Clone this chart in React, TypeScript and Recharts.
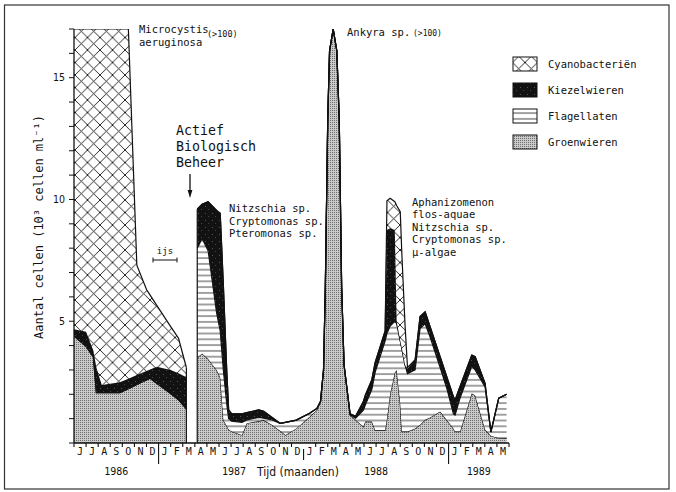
import React from 'react';
import { AreaChart, Area, XAxis, YAxis, ReferenceLine } from 'recharts';

// time in months since 1 June 1986 (null row = gap in sampling)
const monthTime = [0, 1.0, 1.6, 1.85, 2.3, 3.8, 4.5, 5.2, 6.0, 6.3, 6.85, 8.0, 8.65, 9.3, 9.75,
  10.2, 10.6, 11.1, 11.8, 12.1, 12.36, 12.64, 12.8, 13.05, 13.9, 14.3, 15.3, 15.7, 16.4, 17.05, 17.5, 18.4, 19.5, 20.1,
  20.4, 20.65, 20.8, 21.0, 21.15, 21.45, 21.75, 21.95, 22.15, 22.35,
  22.85, 23.3, 23.95, 24.1, 24.65, 24.92, 25.75, 25.9, 26.16, 26.55, 26.7, 27.0, 27.13, 27.4, 27.6, 28.23, 28.64, 29.06,
  29.47, 30.3, 30.85, 31.4, 31.54, 31.95, 32.92, 33.2, 34.02, 34.5, 35.15, 35.8];

const groenwieren = [4.4, 3.97, 3.54, 2.07, 2.07, 2.07, 2.23, 2.4, 2.59, 2.66, 2.45, 2.03, 1.78, 1.4, null,
  3.5, 3.68, 3.45, 3.0, 2.7, 0.94, 0.7, 0.55, 0.47, 0.33, 0.81, 0.9, 0.94, 0.74, 0.5, 0.33, 0.6, 1.08, 1.36,
  1.7, 3.0, 6.4, 13.3, 16.1, 17.0, 16.1, 13.3, 6.4, 3.2,
  1.15, 0.95, 0.67, 0.88, 0.88, 0.53, 0.53, 1.0, 2.0, 2.9, 3.0, 1.6, 0.47, 0.47, 0.47, 0.6, 0.75, 0.95,
  1.05, 1.29, 0.94, 0.6, 0.47, 0.47, 2.04, 1.95, 0.55, 0.3, 0.2, 0.19];

const flagellaten = [0, 0, 0, 0, 0, 0, 0, 0, 0, 0, 0, 0, 0, 0, null,
  4.5, 4.72, 4.45, 2.35, 1.9, 2.06, 0.9, 0.45, 0.43, 0.52, 0.14, 0.15, 0.08, 0.21, 0.31, 0.52, 0.34, 0.14, 0.06,
  0, 0, 0, 0, 0, 0, 0, 0, 0, 0,
  0, 0.07, 0.68, 0.67, 1.32, 2.37, 3.67, 3.5, 2.8, 2.1, 1.9, 2.6, 3.43, 2.73, 2.38, 2.4, 3.95, 3.95,
  3.3, 1.81, 1.31, 0.6, 0.68, 1.38, 1.11, 1.05, 1.75, 0.15, 1.64, 1.81];

const kiezelwieren = [0.27, 0.6, 0.26, 1.03, 0.31, 0.42, 0.41, 0.39, 0.37, 0.36, 0.68, 0.97, 1.08, 1.3, null,
  1.6, 1.4, 2.01, 4.2, 4.83, 3.5, 1.4, 0.36, 0.3, 0.35, 0.3, 0.31, 0.28, 0.1, 0, 0, 0, 0, 0,
  0, 0, 0, 0, 0, 0, 0, 0, 0, 0,
  0.05, 0.08, 0.35, 0.4, 0.4, 0.4, 0.4, 4.25, 4.02, 3.75, 0.1, 0, 0, 0, 0.2, 0.41, 0.49, 0.49,
  0.43, 0.44, 0.47, 0.7, 0.62, 0.47, 0.46, 0.54, 0.15, 0, 0, 0];

const cyanobacterien = [12.33, 12.43, 13.2, 13.9, 14.62, 14.51, 14.36, 4.51, 3.34, 3.05, 2.52, 1.78, 1.44, 0.4, null,
  0, 0, 0, 0, 0, 0, 0, 0, 0, 0, 0, 0, 0, 0, 0, 0, 0, 0, 0,
  0, 0, 0, 0, 0, 0, 0, 0, 0, 0,
  0, 0, 0, 0, 0, 0, 0, 1.2, 1.23, 1.16, 4.75, 5.3, 3.9, 1.6, 0.05, 0, 0, 0,
  0, 0, 0, 0, 0, 0, 0, 0, 0, 0, 0, 0];

const monthLetters = ['J', 'J', 'A', 'S', 'O', 'N', 'D', 'J', 'F', 'M', 'A', 'M', 'J', 'J', 'A', 'S', 'O', 'N', 'D',
  'J', 'F', 'M', 'A', 'M', 'J', 'J', 'A', 'S', 'O', 'N', 'D', 'J', 'F', 'M', 'A', 'M'];
const yearLabels = ['1986', '1987', '1988', '1989'];
const yearStartMonth = [0, 7, 19, 31];
const yearMonthCount = [7, 12, 12, 5];
const yTicks = [0, 1, 2, 3, 4, 5, 6, 7, 8, 9, 10, 11, 12, 13, 14, 15, 16, 17];
const monthTicks = Array.from({ length: 37 }, (_, i) => i);

const legendNames = ['Cyanobacteriën', 'Kiezelwieren', 'Flagellaten', 'Groenwieren'];
const legendPatterns = ['pCyano', 'pKiezel', 'pFlag', 'pGroen'];

const rows = monthTime.map((t, i) => ({
  t,
  g: groenwieren[i],
  f: flagellaten[i],
  k: kiezelwieren[i],
  c: cyanobacterien[i],
}));

// section edges next to the sampling gap
const edges: { t: number; total: number }[] = [];
rows.forEach((r, i) => {
  if (r.g == null) {
    [rows[i - 1], rows[i + 1]].forEach((e) => {
      if (e) edges.push({ t: e.t, total: (e.g as number) + (e.f as number) + (e.k as number) + (e.c as number) });
    });
  }
});

const W = 676;
const H = 492;
const PLOT_L = 74;
const PLOT_R = 509;
const MONTH_PX = (PLOT_R - PLOT_L) / 36;
const MONO = 'DejaVu Sans Mono';
const INK = '#111';

const MonthTick = (props: any) => {
  const { x, y, payload } = props;
  const i = payload.value as number;
  const yi = yearStartMonth.indexOf(i);
  let y1 = y;
  let y2 = y + 4;
  if (i === 7 || i === 31) y2 = y + 21;
  if (i === 19) { y1 = y + 6; y2 = y + 17; }
  return (
    <g>
      <line x1={x} x2={x} y1={y1} y2={y2} stroke={INK} strokeWidth={1.1} />
      {i < 36 && (
        <text x={x + MONTH_PX / 2} y={y + 12} textAnchor="middle" fontSize={10} fontFamily={MONO} fill={INK}>
          {monthLetters[i]}
        </text>
      )}
      {yi >= 0 && (
        <text x={x + (yearMonthCount[yi] * MONTH_PX) / 2 + (yi === 1 ? 3 : 0)} y={y + 32} textAnchor="middle" fontSize={10} fontFamily={MONO} fill={INK}>
          {yearLabels[yi]}
        </text>
      )}
    </g>
  );
};

const Patterns = () => (
  <svg width={0} height={0} style={{ position: 'absolute' }}>
    <defs>
      <pattern id="pCyano" patternUnits="userSpaceOnUse" width={12.5} height={12.5}>
        <rect width={12.5} height={12.5} fill="#fff" />
        <line x1={0} y1={0} x2={12.5} y2={12.5} stroke={INK} strokeWidth={0.9} />
        <line x1={12.5} y1={0} x2={0} y2={12.5} stroke={INK} strokeWidth={0.9} />
      </pattern>
      <pattern id="pFlag" patternUnits="userSpaceOnUse" width={8} height={5.8}>
        <rect width={8} height={5.8} fill="#fff" />
        <line x1={0} y1={2.9} x2={8} y2={2.9} stroke={INK} strokeWidth={0.8} />
      </pattern>
      <pattern id="pKiezel" patternUnits="userSpaceOnUse" width={7} height={7}>
        <rect width={7} height={7} fill="#121212" />
        <rect x={2} y={3} width={1} height={1} fill="#555" />
        <rect x={5} y={6} width={1} height={1} fill="#444" />
      </pattern>
      <pattern id="pGroen" patternUnits="userSpaceOnUse" width={2} height={2}>
        <rect width={2} height={2} fill="#cacaca" />
        <rect x={0} y={0} width={1} height={1} fill="#6e6e6e" />
      </pattern>
    </defs>
  </svg>
);

const Overlay = () => (
  <svg width={W} height={H} style={{ position: 'absolute', left: 0, top: 0, pointerEvents: 'none' }}>
    <rect x={4.5} y={5} width={664.5} height={484} fill="none" stroke="#333" strokeWidth={1.2} />
    {/* y axis title */}
    <text x={39} y={227} transform="rotate(-90 39 227)" textAnchor="middle" dominantBaseline="central"
      fontSize={12} fontFamily={MONO} fill={INK}>Aantal cellen (10³ cellen ml⁻¹)</text>
    {/* x axis title */}
    <text x={298} y={476} textAnchor="middle" fontSize={12} fontFamily="DejaVu Sans Condensed" fill={INK}>Tijd (maanden)</text>
    {/* annotations */}
    <text x={139} y={33} fontSize={10.5} fontFamily={MONO} fill={INK}>Microcystis</text>
    <text x={207} y={37} fontSize={8.5} fontFamily={MONO} fill={INK}>(&gt;100)</text>
    <text x={139} y={46} fontSize={10.5} fontFamily={MONO} fill={INK}>aeruginosa</text>
    <text x={347} y={36} fontSize={10.5} fontFamily={MONO} fill={INK}>Ankyra sp.</text>
    <text x={413} y={36} fontSize={8} fontFamily={MONO} fill={INK}>(&gt;100)</text>
    <text x={176} y={135} fontSize={13.3} fontFamily={MONO} fill={INK}>Actief</text>
    <text x={176} y={151} fontSize={13.3} fontFamily={MONO} fill={INK}>Biologisch</text>
    <text x={176} y={167} fontSize={13.3} fontFamily={MONO} fill={INK}>Beheer</text>
    <line x1={190} y1={174} x2={190} y2={192} stroke={INK} strokeWidth={1.3} />
    <polygon points="190,198 187.6,190 192.4,190" fill={INK} />
    <text x={229} y={212} fontSize={10.5} fontFamily={MONO} fill={INK}>Nitzschia sp.</text>
    <text x={229} y={225} fontSize={10.5} fontFamily={MONO} fill={INK}>Cryptomonas sp.</text>
    <text x={229} y={237} fontSize={10.5} fontFamily={MONO} fill={INK}>Pteromonas sp.</text>
    <text x={412} y={205.5} fontSize={10.5} fontFamily={MONO} fill={INK}>Aphanizomenon</text>
    <text x={412} y={218} fontSize={10.5} fontFamily={MONO} fill={INK}>flos-aquae</text>
    <text x={412} y={230.5} fontSize={10.5} fontFamily={MONO} fill={INK}>Nitzschia sp.</text>
    <text x={412} y={243} fontSize={10.5} fontFamily={MONO} fill={INK}>Cryptomonas sp.</text>
    <text x={412} y={255.5} fontSize={10.5} fontFamily={MONO} fill={INK}>µ-algae</text>
    {/* ice period */}
    <text x={165} y={254} textAnchor="middle" fontSize={9} fontFamily={MONO} fill={INK}>ijs</text>
    <line x1={153} y1={260} x2={177} y2={260} stroke={INK} strokeWidth={1} />
    <line x1={153} y1={257.5} x2={153} y2={262.5} stroke={INK} strokeWidth={1} />
    <line x1={177} y1={257.5} x2={177} y2={262.5} stroke={INK} strokeWidth={1} />
    {/* legend */}
    {legendNames.map((name, i) => {
      const cy = 64 + i * 26;
      return (
        <g key={name}>
          <rect x={513} y={cy - 7} width={24} height={14} fill={`url(#${legendPatterns[i]})`} stroke={INK} strokeWidth={1} />
          <text x={548} y={cy + 3.5} fontSize={10.5} fontFamily={MONO} fill={INK}>{name}</text>
        </g>
      );
    })}
  </svg>
);

export default function App() {
  const areaCommon = {
    type: 'linear' as const,
    stackId: 's',
    stroke: INK,
    strokeWidth: 1.2,
    dot: false,
    activeDot: false,
    isAnimationActive: false,
    connectNulls: false,
  };
  return (
    <div style={{ position: 'absolute', left: 0, top: 0, width: W, height: H, background: '#fff' }}>
      <Patterns />
      <AreaChart width={W} height={H} data={rows} margin={{ top: 29, right: W - PLOT_R, bottom: 9, left: 0 }}>
        <XAxis
          dataKey="t"
          type="number"
          domain={[0, 36]}
          ticks={monthTicks}
          interval={0}
          height={40}
          tickLine={false}
          tickSize={0}
          tickMargin={0}
          axisLine={{ stroke: INK, strokeWidth: 1.3 }}
          tick={(p: any) => <MonthTick {...p} />}
          allowDataOverflow
        />
        <YAxis
          type="number"
          domain={[0, 17]}
          ticks={yTicks}
          interval={0}
          width={PLOT_L}
          tickSize={5}
          tickMargin={4}
          tickLine={{ stroke: INK, strokeWidth: 1 }}
          axisLine={{ stroke: INK, strokeWidth: 1.3 }}
          tickFormatter={(v: number) => (v > 0 && v % 5 === 0 ? String(v) : '')}
          tick={{ fontSize: 10.5, fill: INK, fontFamily: 'DejaVu Sans Condensed' }}
          allowDataOverflow
        />
        <Area {...areaCommon} dataKey="g" name="Groenwieren" fill="url(#pGroen)" fillOpacity={1} />
        <Area {...areaCommon} dataKey="f" name="Flagellaten" fill="url(#pFlag)" fillOpacity={1} />
        <Area {...areaCommon} dataKey="k" name="Kiezelwieren" fill="url(#pKiezel)" fillOpacity={1} />
        <Area {...areaCommon} dataKey="c" name="Cyanobacteriën" fill="url(#pCyano)" fillOpacity={1} />
        {edges.map((e) => (
          <ReferenceLine
            key={e.t}
            segment={[{ x: e.t, y: 0 }, { x: e.t, y: e.total }]}
            stroke={INK}
            strokeWidth={1.2}
          />
        ))}
      </AreaChart>
      <Overlay />
    </div>
  );
}
